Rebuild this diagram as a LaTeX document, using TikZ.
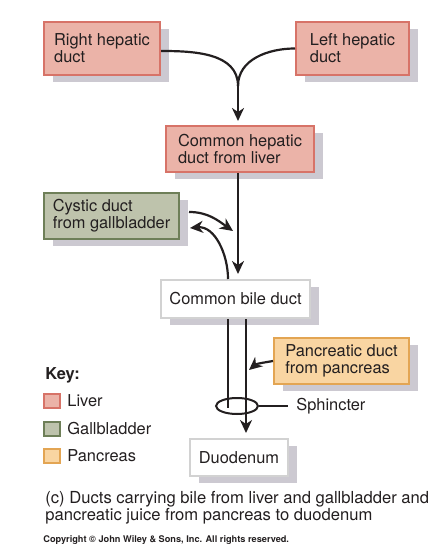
\documentclass[tikz,border=0pt]{standalone}
\usepackage{fontspec}
\setmainfont{TeX Gyre Heros}
\usepackage{xcolor}
\usepackage{tikz}
\usetikzlibrary{positioning,shapes.geometric,arrows.meta,shadows}
\definecolor{ink}{HTML}{231F20}
\definecolor{liverfill}{HTML}{EBB3A8}
\definecolor{liverline}{HTML}{D77368}
\definecolor{gallfill}{HTML}{BEC3AC}
\definecolor{gallline}{HTML}{6E7F58}
\definecolor{pancfill}{HTML}{F9D5A2}
\definecolor{pancline}{HTML}{E3A553}
\definecolor{plainline}{HTML}{D2D2D2}
\definecolor{shade}{HTML}{CCC9D1}

\begin{document}
\begin{tikzpicture}[x=0.5pt,y=0.5pt,
    box/.style={rectangle, align=left, text=ink, line width=1pt, inner sep=0pt,
        font=\fontsize{8.2}{8.5}\selectfont,
        general shadow={fill=shade, shadow xshift=4.5pt, shadow yshift=-3.5pt}},
    liver/.style={box, fill=liverfill, draw=liverline},
    gall/.style={box, fill=gallfill, draw=gallline},
    panc/.style={box, fill=pancfill, draw=pancline},
    plain/.style={box, fill=white, draw=plainline},
    swatch/.style={rectangle, minimum width=8pt, minimum height=7pt, inner sep=0pt, line width=1pt},
    lbl/.style={inner sep=0pt, text=ink, font=\fontsize{8.2}{8.5}\selectfont},
    duct/.style={draw=ink, line width=1.1pt},
    flow/.style={duct, -{Stealth[length=6.5pt,width=6pt,inset=2pt]}}]
            \useasboundingbox (0,0) rectangle (447,-550);

            \node[liver, minimum width=58pt, minimum height=26.5pt] (rh) at (102,-48.5) {Right hepatic\\duct};
            \node[liver, minimum width=56.5pt, minimum height=26.5pt] (lh) at (352.5,-48.5) {Left hepatic\\duct};
            \node[liver, minimum width=74pt, minimum height=23pt] (chd) at (240,-149) {Common hepatic\\duct from liver};
            \node[gall, minimum width=67.5pt, minimum height=23pt] (cd) at (111.5,-216) {Cystic duct\\from gallbladder};
            \node[plain, minimum width=74.5pt, minimum height=19pt] (cbd) at (235.5,-299) {Common bile duct};
            \node[panc, minimum width=67.5pt, minimum height=23pt] (pd) at (341.5,-361) {Pancreatic duct\\from pancreas};
            \node[plain, minimum width=49pt, minimum height=18.5pt] (duo) at (239,-457.5) {Duodenum};

            \coordinate (join) at (238,-86);
            \draw[duct] ([yshift=-1.25pt]rh.east) to[out=0,in=90] (join);
            \draw[duct] (lh.west) to[out=180,in=90] (join);
            \draw[flow, shorten >=2pt] (join) -- (join |- chd.north);
            \draw[flow, shorten >=2.5pt] (join |- chd.south) -- (join |- cbd.north);

            \coordinate (cdin) at (233,-231);
            \coordinate (cdback) at (190,-228);
            \draw[flow] ([shift={(9,4)}]cd.east) to[out=0,in=145] (cdin);
            \draw[flow] ([xshift=-3.75pt]cbd.north) to[out=90,in=5] (cdback);

            \coordinate (lend) at (228,-408);
            \draw[duct] ([xshift=-3.75pt]cbd.south) -- (lend);
            \draw[flow, shorten >=2.5pt] ([xshift=5.25pt]cbd.south) -- ([xshift=5.25pt]cbd.south |- duo.north);
            \coordinate (pdin) at (249,-370);
            \draw[flow] (pd.west) to[out=190,in=40] (pdin);

            \node[draw=ink, ellipse, line width=1pt, inner sep=0pt, minimum width=21pt, minimum height=8pt] (sph) at (237,-406) {};
            \node[lbl, anchor=west] (sphl) at (296,-406) {Sphincter};
            \draw[draw=ink, line width=0.7pt] (sph.east) -- ([xshift=-4pt]sphl.west);

            \node[lbl, anchor=west, font=\fontsize{8.2}{8.5}\selectfont\bfseries] (key) at (45,-375) {Key:};
            \node[swatch, fill=liverfill, draw=liverline] (kliver) at (52,-401) {};
            \node[lbl, right=3pt of kliver] (tliver) {Liver};
            \node[swatch, fill=gallfill, draw=gallline] (kgall) at (52,-429) {};
            \node[lbl, right=3pt of kgall] (tgall) {Gallbladder};
            \node[swatch, fill=pancfill, draw=pancline] (kpanc) at (52,-456) {};
            \node[lbl, right=3pt of kpanc] (tpanc) {Pancreas};

            \node[lbl, anchor=west, align=left, font=\fontsize{8.3}{8.5}\selectfont] (cap) at (45,-507.5)
                {(c) Ducts carrying bile from liver and gallbladder and\\pancreatic juice from pancreas to duodenum};
            \node[lbl, anchor=west, font=\fontsize{4.6}{5}\selectfont\bfseries] (copy) at (43,-540)
                {Copyright \textcopyright\ John Wiley \& Sons, Inc. All rights reserved.};
        \end{tikzpicture}
\end{document}
